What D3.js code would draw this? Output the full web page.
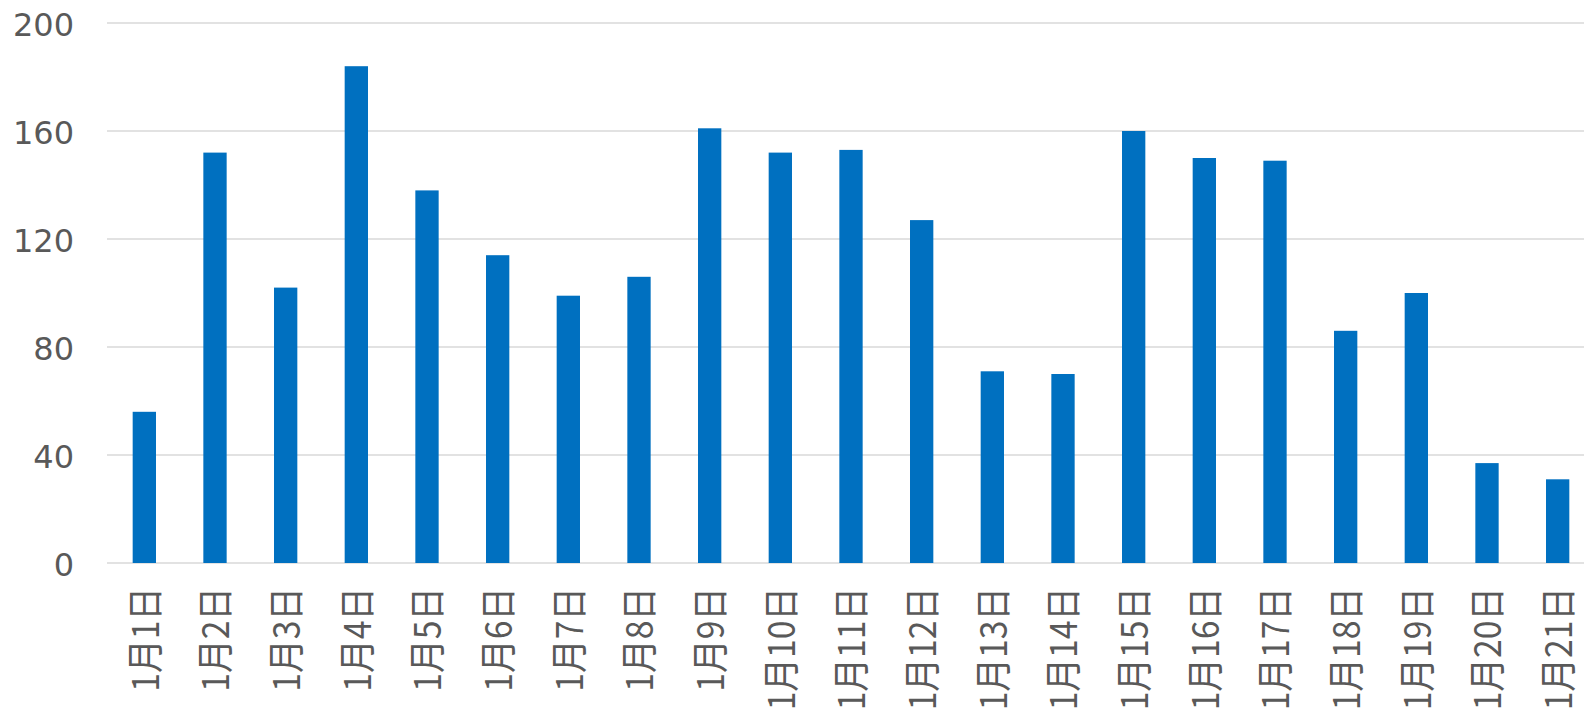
<!DOCTYPE html>
<html>
<head>
<meta charset="utf-8">
<script src="https://cdn.jsdelivr.net/npm/d3@7"></script>
<style>
  body { margin: 0; background: #fff; }
  svg { display: block; }
  .tick text { fill: #595959; }
</style>
</head>
<body>
<div id="chart"></div>
<script>
let days = ["1月1日", "1月2日", "1月3日", "1月4日", "1月5日", "1月6日", "1月7日",
  "1月8日", "1月9日", "1月10日", "1月11日", "1月12日", "1月13日", "1月14日",
  "1月15日", "1月16日", "1月17日", "1月18日", "1月19日", "1月20日", "1月21日"];
let counts = [56, 152, 102, 184, 138, 114, 99, 106, 161, 152, 153, 127, 71, 70,
  160, 150, 149, 86, 100, 37, 31];
let yTicks = [0, 40, 80, 120, 160, 200];

let svgWidth = 1584, svgHeight = 711;
let margin = { top: 23, right: 0, bottom: 148, left: 109 };
// plot area runs a little past the right edge, like the original
let width = 1484;
let height = svgHeight - margin.top - margin.bottom;

let svg = d3.select("#chart")
  .append("svg")
  .attr("width", svgWidth)
  .attr("height", svgHeight);

let chartGroup = svg.append("g")
  .attr("transform", `translate(${margin.left},${margin.top})`);

let xScale = d3.scaleBand()
  .domain(days)
  .range([0, width])
  .paddingInner(0.67)
  .paddingOuter(0.335);

let yScale = d3.scaleLinear()
  .domain([0, 200])
  .range([height, 0]);

// gridlines
chartGroup.append("g")
  .selectAll("line")
  .data(yTicks)
  .enter()
  .append("line")
  .attr("x1", -2)
  .attr("x2", width)
  .attr("y1", d => yScale(d))
  .attr("y2", d => yScale(d))
  .style("stroke", "#d9d9d9")
  .style("stroke-width", 1.5);

// y axis
let yAxis = chartGroup.append("g")
  .call(d3.axisLeft(yScale).tickValues(yTicks).tickSize(0).tickPadding(35));
yAxis.select(".domain").remove();
yAxis.selectAll("text")
  .attr("dy", "0.4em")
  .style("font-family", "'DejaVu Sans', sans-serif")
  .style("font-size", "32px");

// bars
chartGroup.selectAll("rect")
  .data(counts)
  .enter()
  .append("rect")
  .attr("x", (d, i) => xScale(days[i]))
  .attr("y", d => yScale(d))
  .attr("width", xScale.bandwidth())
  .attr("height", d => height - yScale(d))
  .style("fill", "#0070c0");

// x axis labels, rotated and a bit condensed
let xAxis = chartGroup.append("g")
  .attr("transform", `translate(0, ${height})`)
  .call(d3.axisBottom(xScale).tickSize(0));
xAxis.select(".domain").remove();
xAxis.selectAll("text")
  .attr("x", 0)
  .attr("y", 0)
  .attr("dy", "0.36em")
  .attr("transform", "translate(1, 24) rotate(-90) scale(0.91, 1)")
  .style("text-anchor", "end")
  .style("font-family", "'Noto Sans CJK JP', sans-serif")
  .style("font-size", "37px");
</script>
</body>
</html>
